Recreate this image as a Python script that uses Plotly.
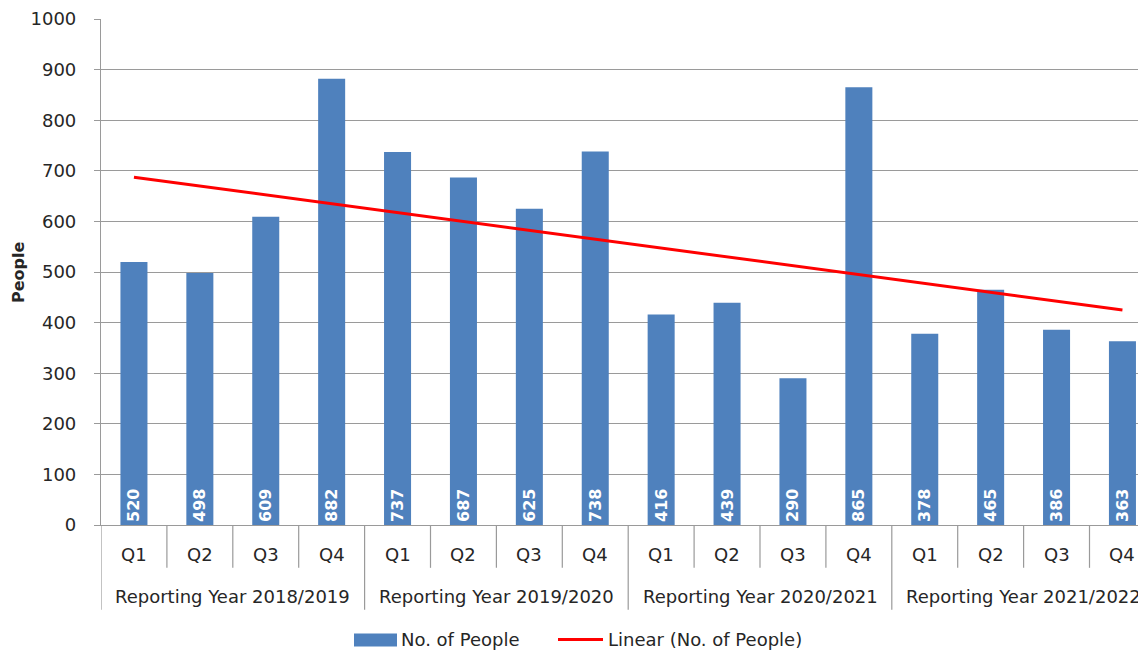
import numpy as np
import plotly.graph_objects as go

years = ["Reporting Year 2018/2019", "Reporting Year 2019/2020",
         "Reporting Year 2020/2021", "Reporting Year 2021/2022"]
quarters = ["Q1", "Q2", "Q3", "Q4"]
people = [520, 498, 609, 882, 737, 687, 625, 738,
          416, 439, 290, 865, 378, 465, 386, 363]
y_ticks = [0, 100, 200, 300, 400, 500, 600, 700, 800, 900, 1000]

OFF = 8  # page body margin
W, H = 1146 - OFF, 655 - OFF
# plot area in reference (screen) pixels
RL, RR, RT, RB = 101, 1146, 17, 525
L, R, T, B = RL - OFF, RR - OFF, RT - OFF, RB - OFF

def px(xp):
    return (xp - RL) / (RR - RL)

def py(yp):
    return (RB - yp) / (RB - RT)

n = len(people)
xs = np.arange(n)
coef = np.polyfit(xs + 1, people, 1)
trend = np.polyval(coef, xs + 1)

FONT = "DejaVu Sans"
TXT = "#262626"
GRID = "#9a9a9a"
BLUE = "#4F81BD"
FS = 18

fig = go.Figure()
fig.add_trace(go.Bar(
    x=xs, y=people, width=0.41, marker=dict(color=BLUE, line=dict(width=0)),
    text=[str(v) for v in people], textposition="inside",
    insidetextanchor="start", textangle=-90, constraintext="none",
    textfont=dict(family=FONT, size=16, color="white", weight="bold"),
    showlegend=False, hoverinfo="y"))
fig.add_trace(go.Scatter(
    x=xs, y=trend, mode="lines", line=dict(color="#FF0000", width=3),
    showlegend=False, hoverinfo="skip"))

shapes = []
annotations = []
for k in range(n + 1):
    xv = k - 0.5
    is_group = (k % 4 == 0)
    y1 = py(610) if is_group else py(568)
    shapes.append(dict(type="line", xref="x", yref="paper", x0=xv, x1=xv,
                       y0=0, y1=y1, line=dict(color=GRID, width=1.2)))
for k in range(n):
    annotations.append(dict(x=k, y=py(555), xref="x", yref="paper",
                            text=quarters[k % 4], showarrow=False,
                            font=dict(family=FONT, size=FS, color=TXT),
                            xanchor="center", yanchor="middle"))
for g, name in enumerate(years):
    annotations.append(dict(x=g * 4 + 1.5, y=py(597), xref="x", yref="paper",
                            text=name, showarrow=False,
                            font=dict(family=FONT, size=FS, color=TXT),
                            xanchor="center", yanchor="middle"))
annotations.append(dict(x=px(18), y=py(271), xref="paper", yref="paper",
                        text="People", textangle=-90, showarrow=False,
                        font=dict(family=FONT, size=16, color=TXT, weight="bold"),
                        xanchor="center", yanchor="middle", borderpad=0))
# legend
shapes.append(dict(type="rect", xref="paper", yref="paper",
                   x0=px(354), x1=px(397), y0=py(647), y1=py(634),
                   fillcolor=BLUE, line=dict(width=0)))
annotations.append(dict(x=px(399), y=py(640), xref="paper", yref="paper",
                        text="No. of People", showarrow=False,
                        font=dict(family=FONT, size=FS, color=TXT),
                        xanchor="left", yanchor="middle"))
shapes.append(dict(type="line", xref="paper", yref="paper",
                   x0=px(558), x1=px(603), y0=py(640), y1=py(640),
                   line=dict(color="#FF0000", width=3)))
annotations.append(dict(x=px(606), y=py(640), xref="paper", yref="paper",
                        text="Linear (No. of People)", showarrow=False,
                        font=dict(family=FONT, size=FS, color=TXT),
                        xanchor="left", yanchor="middle"))

units = (RR - RL) / 65.9
fig.update_layout(
    width=W, height=H,
    margin=dict(l=L, r=W - R, t=T, b=H - B, pad=0),
    paper_bgcolor="white", plot_bgcolor="white",
    xaxis=dict(range=[-0.5, -0.5 + units], showticklabels=False, ticks="",
               showgrid=False, zeroline=False, showline=True,
               linecolor=GRID, linewidth=1.2, fixedrange=True),
    yaxis=dict(range=[0, 1000], tickvals=y_ticks, ticks="outside", ticklen=6,
               tickcolor=GRID, tickwidth=1.2, showgrid=True, gridcolor=GRID,
               gridwidth=1.2, zeroline=False, showline=True, linecolor=GRID,
               linewidth=1.2, ticklabelstandoff=14, ticklabeloverflow="allow",
               tickfont=dict(family=FONT, size=FS, color=TXT)),
    shapes=shapes, annotations=annotations,
)
fig.write_html("out.html")
